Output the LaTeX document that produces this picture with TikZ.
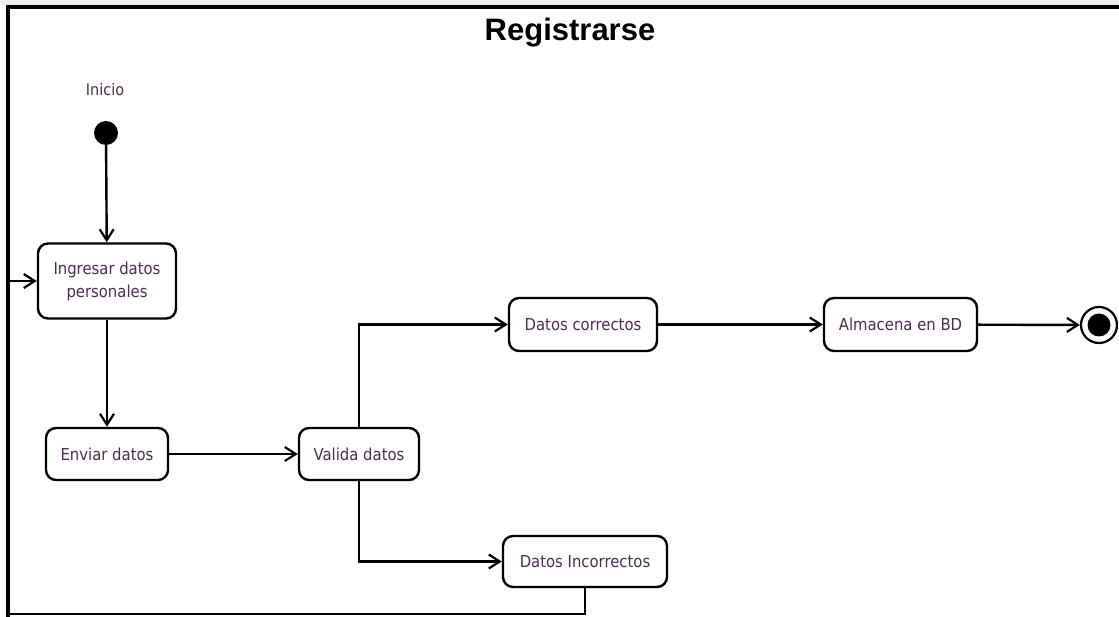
\documentclass[tikz,border=0pt]{standalone}
\usepackage{fontspec}
\usetikzlibrary{arrows.meta}
\setmainfont{DejaVu Sans}[FakeStretch=0.9]
\newfontfamily\titlefont{Liberation Sans}[BoldFont={* Bold}]
\definecolor{txt}{RGB}{75,45,80}
\begin{document}
\begin{tikzpicture}[x=1pt,y=-1pt,
  act/.style={draw=black,line width=2.4pt,rounded corners=10pt,fill=white,inner sep=0pt,
    align=center,text=txt,font=\fontsize{16.5}{23}\selectfont},
  arr/.style={line width=2.4pt,-{Straight Barb[length=11pt,width=14pt,line width=2.2pt]}},
  ln/.style={line width=2.4pt}]
\useasboundingbox (0,0) rectangle (1119,617);
\fill[white] (0,0) rectangle (1119,617);
\fill[black!7] (0,0) rectangle (1119,5);
% frame
\draw[line width=3.8pt] (8,617) -- (8,7) -- (1119,7);
\node[font=\titlefont\bfseries\fontsize{31}{36}\selectfont] (title) at (570,33) {Registrarse};
\node[text=txt,font=\fontsize{16}{19}\selectfont] (inicio) at (105,90) {Inicio};
\node[circle,fill=black,minimum size=24pt,inner sep=0pt] (start) at (106,133) {};
\node[act,minimum width=138pt,minimum height=75pt] (ing) at (107,281) {Ingresar datos\\personales};
\node[act,minimum width=122pt,minimum height=52pt] (env) at (107,454) {Enviar datos};
\node[act,minimum width=120pt,minimum height=52pt] (val) at (359,454) {Valida datos};
\node[act,minimum width=148pt,minimum height=53pt] (dc) at (583,324.5) {Datos correctos};
\node[act,minimum width=153pt,minimum height=53pt] (alm) at (900.5,324.5) {Almacena en BD};
\node[act,minimum width=164pt,minimum height=51pt] (di) at (585,561.5) {Datos Incorrectos};
\node[circle,draw=black,line width=2.2pt,fill=white,minimum size=36pt,inner sep=0pt] (end) at (1099,325) {};
\node[circle,fill=black,minimum size=23pt,inner sep=0pt] (endin) at (end.center) {};
\coordinate (lb) at (8,614);
% connectors
\draw[arr] (start) -- (ing);
\draw[arr] (ing) -- (env);
\draw[arr] (env) -- (val);
\draw[arr] (val.north) |- (dc.west);
\draw[arr] (val.south) |- (di.west);
\draw[arr] (dc) -- (alm);
\draw[arr] (alm) -- (end);
\draw[arr] (di.south) -- (di.south |- lb) -- (lb) |- (ing.west);
\end{tikzpicture}
\end{document}
